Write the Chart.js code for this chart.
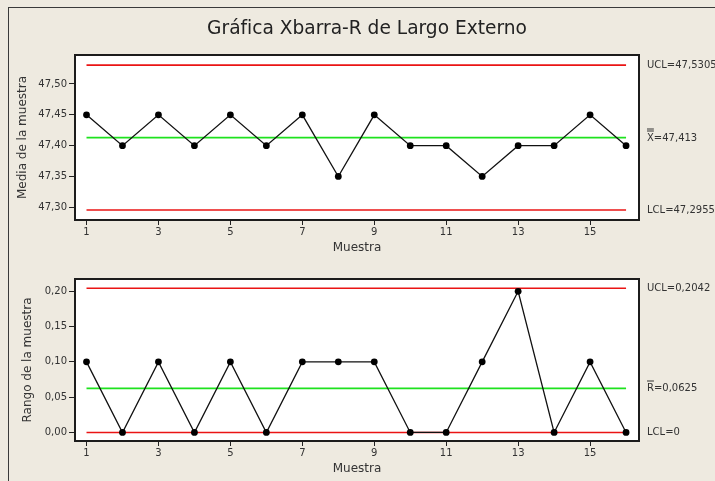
<!DOCTYPE html>
<html lang="es">
<head>
<meta charset="UTF-8">
<title>Gráfica Xbarra-R de Largo Externo</title>
<script src="https://cdn.jsdelivr.net/npm/chart.js"></script>
<style>
  html, body { margin: 0; padding: 0; background: #eeeae0; }
  #page { position: relative; width: 715px; height: 481px; overflow: hidden; }
  #frame { position: absolute; left: 8px; top: 7px; width: 760px; height: 520px;
           border-left: 1px solid #3a3a3a; border-top: 1px solid #3a3a3a; }
  canvas { position: absolute; left: 0; }
  #xbarChart { top: 0; }
  #rangeChart { top: 258px; }
</style>
</head>
<body>
<div id="page">
  <div id="frame"></div>
  <canvas id="xbarChart" width="715" height="258"></canvas>
  <canvas id="rangeChart" width="715" height="223"></canvas>
</div>
<script>
// Samples and subgroup statistics
const samples = [1, 2, 3, 4, 5, 6, 7, 8, 9, 10, 11, 12, 13, 14, 15, 16];
const xbarValues = [47.45, 47.40, 47.45, 47.40, 47.45, 47.40, 47.45, 47.35,
                    47.45, 47.40, 47.40, 47.35, 47.40, 47.40, 47.45, 47.40];
const rangeValues = [0.10, 0.00, 0.10, 0.00, 0.10, 0.00, 0.10, 0.10,
                     0.10, 0.00, 0.00, 0.10, 0.20, 0.00, 0.10, 0.00];

// Control limits
const xbarUCL = 47.5305, xbarCL = 47.413, xbarLCL = 47.2955;
const rangeUCL = 0.2042, rangeCL = 0.0625, rangeLCL = 0;

// Tick labels
const xTickValues = [1, 3, 5, 7, 9, 11, 13, 15];
const xbarTicks = [47.30, 47.35, 47.40, 47.45, 47.50];
const rangeTicks = [0.00, 0.05, 0.10, 0.15, 0.20];

const FONT = 'DejaVu Sans';
const TEXT = '#333';
const RED = '#ea1414';
const GREEN = '#1ee21e';

const comma = v => String(v).replace('.', ',');

// white plot area, black box, limit labels on the right, optional title
const controlPlot = {
  id: 'controlPlot',
  beforeDraw(chart) {
    const { ctx, chartArea: a } = chart;
    ctx.save();
    ctx.fillStyle = '#fff';
    ctx.fillRect(a.left, a.top, a.width, a.height);
    ctx.restore();
  },
  afterDraw(chart, args, opts) {
    const { ctx, chartArea: a } = chart;
    const y = chart.scales.y;
    ctx.save();
    ctx.strokeStyle = '#1c1c1c';
    ctx.lineWidth = 2;
    ctx.strokeRect(a.left, a.top, a.width, a.height);

    ctx.font = '10px "' + FONT + '"';
    ctx.fillStyle = TEXT;
    ctx.textBaseline = 'middle';
    ctx.textAlign = 'left';
    const lx = a.right + 8;
    opts.labels.forEach(l => {
      const py = Math.round(y.getPixelForValue(l.value)) + 0.5;
      ctx.fillText(l.text, lx, py);
      if (l.bars) {
        const w = ctx.measureText(l.text.charAt(0)).width;
        ctx.fillRect(lx, py - 8, w, 1);
        if (l.bars > 1) ctx.fillRect(lx, py - 10, w, 1);
      }
    });

    if (opts.title) {
      ctx.font = '18.6px "' + FONT + '"';
      ctx.fillStyle = '#222';
      ctx.textAlign = 'center';
      ctx.fillText(opts.title, 367, 29);
    }
    ctx.restore();
  }
};

function limitLine(value, color) {
  return {
    data: [{ x: samples[0], y: value }, { x: samples[samples.length - 1], y: value }],
    borderColor: color,
    borderWidth: 1.6,
    pointRadius: 0,
    fill: false
  };
}

function buildChart(id, cfg) {
  return new Chart(document.getElementById(id), {
    type: 'line',
    data: {
      datasets: [
        {
          data: samples.map((s, i) => ({ x: s, y: cfg.values[i] })),
          borderColor: '#111',
          borderWidth: 1.3,
          pointRadius: 3.4,
          pointBackgroundColor: '#000',
          pointBorderColor: '#000',
          pointBorderWidth: 0,
          tension: 0
        },
        limitLine(cfg.ucl, RED),
        limitLine(cfg.cl, GREEN),
        limitLine(cfg.lcl, RED)
      ]
    },
    options: {
      responsive: false,
      animation: false,
      events: [],
      layout: { padding: { left: 0, right: 76, top: cfg.padTop, bottom: 0 } },
      scales: {
        x: {
          type: 'linear',
          min: 0.68,
          max: 16.36,
          afterBuildTicks: s => { s.ticks = xTickValues.map(v => ({ value: v })); },
          afterFit: s => { s.height = cfg.xHeight; },
          grid: { drawOnChartArea: false, drawTicks: true, tickLength: 5, color: '#222' },
          border: { display: false },
          ticks: {
            font: { family: FONT, size: 10 }, color: TEXT, padding: 1,
            maxRotation: 0, autoSkip: false, callback: v => String(v)
          },
          title: {
            display: true, text: 'Muestra', color: TEXT,
            font: { family: FONT, size: 12 }, padding: { top: 0, bottom: cfg.xTitlePad }
          }
        },
        y: {
          min: cfg.yMin,
          max: cfg.yMax,
          afterBuildTicks: s => { s.ticks = cfg.ticks.map(v => ({ value: v })); },
          afterFit: s => { s.width = 75; },
          grid: { drawOnChartArea: false, drawTicks: true, tickLength: 6, color: '#222' },
          border: { display: false },
          ticks: {
            font: { family: FONT, size: 10 }, color: TEXT, padding: 2,
            callback: v => v.toFixed(2).replace('.', ',')
          },
          title: {
            display: true, text: cfg.yTitle, color: TEXT,
            font: { family: FONT, size: 12 }, padding: { top: cfg.yTitlePad, bottom: 0 }
          }
        }
      },
      plugins: {
        legend: { display: false },
        tooltip: { enabled: false },
        controlPlot: { title: cfg.title, labels: cfg.labels }
      }
    },
    plugins: [controlPlot]
  });
}

buildChart('xbarChart', {
  values: xbarValues,
  ucl: xbarUCL, cl: xbarCL, lcl: xbarLCL,
  yMin: 47.2794, yMax: 47.547,
  ticks: xbarTicks,
  padTop: 55, xHeight: 38, xTitlePad: 3,
  yTitle: 'Media de la muestra', yTitlePad: 16,
  title: 'Gráfica Xbarra-R de Largo Externo',
  labels: [
    { text: 'UCL=' + comma(xbarUCL), value: xbarUCL },
    { text: 'X=' + comma(xbarCL), value: xbarCL, bars: 2 },
    { text: 'LCL=' + comma(xbarLCL), value: xbarLCL }
  ]
});

buildChart('rangeChart', {
  values: rangeValues,
  ucl: rangeUCL, cl: rangeCL, lcl: rangeLCL,
  yMin: -0.0121, yMax: 0.2174,
  ticks: rangeTicks,
  padTop: 21, xHeight: 40, xTitlePad: 5,
  yTitle: 'Rango de la muestra', yTitlePad: 21,
  labels: [
    { text: 'UCL=' + comma(rangeUCL), value: rangeUCL },
    { text: 'R=' + comma(rangeCL), value: rangeCL, bars: 1 },
    { text: 'LCL=' + comma(rangeLCL), value: rangeLCL }
  ]
});
</script>
</body>
</html>
